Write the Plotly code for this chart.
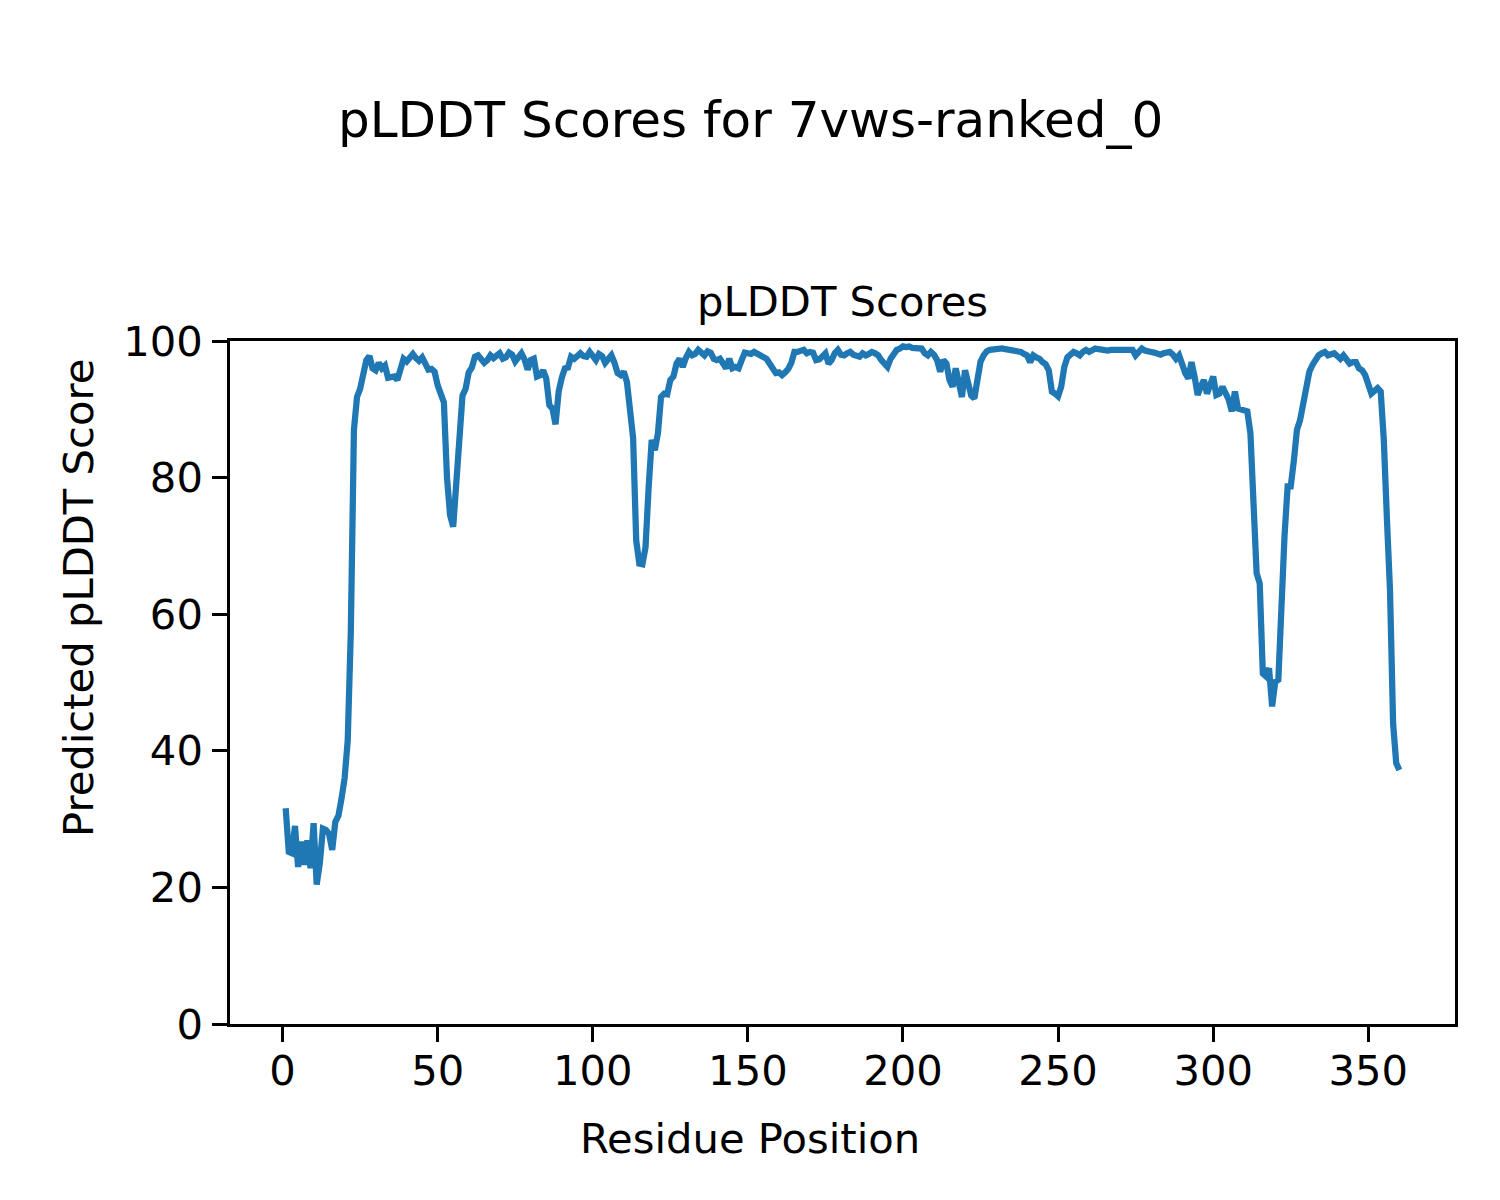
import plotly.graph_objects as go

residues = list(range(1, 361))

plddt = [
    31.6, 25.2, 25.0, 29.0, 23.0, 26.7, 23.3, 26.9, 22.8, 29.4,
    20.4, 23.5, 28.6, 28.4, 27.8, 25.5, 29.6, 30.5, 33.0, 36.0,
    41.5, 57.5, 87.0, 91.8, 93.0, 95.2, 97.2, 97.8, 96.0, 95.7,
    96.8, 96.0, 96.4, 94.6, 94.6, 94.8, 94.3, 95.8, 97.4, 97.0,
    97.4, 98.1, 97.5, 97.1, 97.6, 96.4, 95.8, 95.9, 95.5, 93.5,
    92.4, 91.0, 80.0, 74.5, 72.8, 79.5, 88.0, 92.0, 93.0, 95.4,
    96.1, 97.7, 97.9, 97.3, 96.8, 97.2, 97.9, 97.5, 97.9, 98.2,
    97.4, 97.6, 98.3, 98.0, 97.0, 97.5, 98.2, 97.3, 95.8, 97.2,
    97.4, 94.8, 95.0, 95.7, 94.5, 90.6, 90.1, 87.8, 92.6, 94.6,
    96.0, 96.1, 97.7, 97.4, 97.9, 98.2, 97.8, 97.7, 98.4, 97.8,
    97.2, 98.1, 97.8, 96.8, 97.4, 97.9, 96.8, 95.3, 95.0, 95.5,
    94.0, 90.0, 85.8, 70.8, 67.4, 67.3, 69.8, 78.5, 85.5, 84.0,
    86.5, 91.8, 92.3, 92.2, 94.3, 94.8, 96.7, 97.4, 96.2, 97.5,
    98.4, 97.9, 98.1, 98.7, 98.3, 97.9, 98.5, 98.3, 97.4, 97.2,
    97.4, 96.8, 96.0, 97.4, 96.0, 96.2, 96.0, 97.2, 98.3, 98.2,
    98.1, 98.4, 98.2, 97.9, 97.6, 97.4, 96.7, 95.8, 95.3, 95.4,
    95.0, 95.4, 95.9, 96.8, 98.4, 98.4, 98.5, 98.7, 98.2, 98.4,
    98.3, 97.2, 97.3, 97.9, 98.2, 96.7, 97.2, 98.2, 98.7, 98.0,
    97.9, 98.2, 98.4, 98.0, 97.9, 97.7, 98.2, 97.9, 98.1, 98.4,
    98.2, 97.9, 97.2, 96.7, 96.2, 97.4, 98.2, 98.7, 98.9, 99.2,
    99.1, 99.2, 99.0, 98.9, 98.9, 98.9, 98.2, 97.9, 98.4, 98.0,
    97.2, 95.5, 97.2, 96.7, 94.3, 93.3, 96.0, 93.5, 91.8, 95.7,
    94.0, 92.0, 91.6, 94.8, 97.0, 97.9, 98.5, 98.7, 98.8, 98.9,
    98.9, 98.9, 98.8, 98.7, 98.6, 98.7, 98.6, 98.4, 98.1, 97.9,
    96.9, 97.9, 97.6, 97.4, 96.9, 96.6, 95.7, 92.6, 92.3, 91.9,
    93.3, 96.2, 97.6, 98.0, 98.4, 98.2, 97.9, 98.4, 98.7, 98.4,
    98.6, 98.9, 98.8, 98.7, 98.7, 98.6, 98.7, 98.7, 98.8, 98.9,
    98.8, 98.7, 98.7, 98.7, 97.9, 98.3, 98.9, 98.6, 98.4, 98.4,
    98.3, 98.2, 98.0, 98.2, 98.3, 98.4, 98.0, 97.4, 97.9, 96.5,
    95.3, 94.5, 96.9, 94.8, 92.1, 93.3, 94.3, 92.3, 93.5, 94.8,
    92.1, 92.3, 93.3, 92.3, 91.4, 89.7, 92.6, 90.1, 89.9, 89.8,
    89.7, 86.5, 76.0, 66.0, 64.5, 51.3, 50.9, 52.1, 46.5, 50.1,
    50.4, 63.5, 71.5, 78.7, 78.7, 82.5, 87.0, 88.4, 90.5, 92.5,
    95.5, 96.5, 97.3, 97.9, 98.2, 98.4, 97.9, 98.1, 98.2, 97.8,
    97.4, 97.9, 97.4, 96.7, 96.9, 96.9, 96.0, 95.7, 95.0, 93.3,
    92.3, 92.7, 93.1, 92.6, 85.5, 74.0, 63.5, 44.0, 38.2, 37.2,
]

x_ticks = [0, 50, 100, 150, 200, 250, 300, 350]
y_ticks = [0, 20, 40, 60, 80, 100]

suptitle = "pLDDT Scores for 7vws-ranked_0"
ax_title = "pLDDT Scores"
x_label = "Residue Position"
y_label = "Predicted pLDDT Score"

FONT = "DejaVu Sans"
FS = 41.7

fig = go.Figure()
fig.add_trace(go.Scatter(
    x=residues, y=plddt, mode="lines",
    line=dict(color="#1f77b4", width=6.25),
    showlegend=False,
))

W, H = 1500, 1200
OFF = 8  # page body margin offset
# desired on-screen plot area
SL, ST, SR, SB = 230, 341, 1455, 1024
pw, ph = SR - SL, SB - ST
L = SL - OFF
T = ST - OFF
R = W - L - pw
B = H - T - ph

def px(xp):
    return (xp - SL) / pw

def py(yp):
    return (SB - yp) / ph

axis_common = dict(
    showline=True, mirror=True, linecolor="black", linewidth=3.3,
    ticks="outside", ticklen=14.6, tickwidth=3.3, tickcolor="black",
    showgrid=False, zeroline=False,
    tickfont=dict(family=FONT, size=FS, color="black"),
)

fig.update_layout(
    width=W, height=H,
    margin=dict(l=L, r=R, t=T, b=B, pad=0),
    paper_bgcolor="white", plot_bgcolor="white",
    font=dict(family=FONT, size=FS, color="black"),
    xaxis=dict(range=[-16.95, 377.95], tickvals=x_ticks, ticklabelstandoff=-7, **axis_common),
    yaxis=dict(range=[0, 100], tickvals=y_ticks, ticklabelstandoff=1, **axis_common),
    annotations=[
        dict(text=suptitle, xref="paper", yref="paper", x=px(750), y=py(120),
             xanchor="center", yanchor="middle", showarrow=False,
             font=dict(family=FONT, size=50, color="black")),
        dict(text=ax_title, xref="paper", yref="paper", x=0.5, y=py(302),
             xanchor="center", yanchor="middle", showarrow=False,
             font=dict(family=FONT, size=FS, color="black")),
        dict(text=x_label, xref="paper", yref="paper", x=px(750), y=py(1138),
             xanchor="center", yanchor="middle", showarrow=False,
             font=dict(family=FONT, size=FS, color="black")),
        dict(text=y_label, xref="paper", yref="paper", x=px(78), y=py(598),
             xanchor="center", yanchor="middle", showarrow=False, textangle=-90,
             font=dict(family=FONT, size=FS, color="black")),
    ],
)

fig.write_html("out.html")
